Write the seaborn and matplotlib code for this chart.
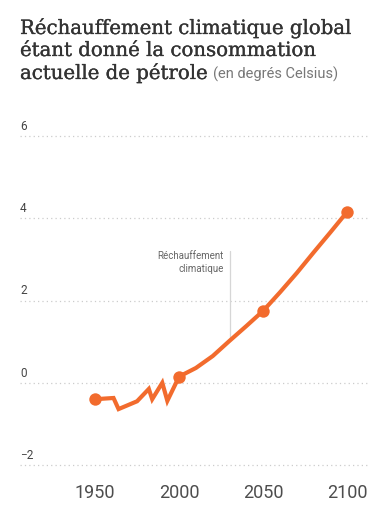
import matplotlib
matplotlib.use("Agg")
import matplotlib.pyplot as plt
import matplotlib.transforms as mtransforms
import matplotlib.patheffects as pe
import pandas as pd
import seaborn as sns

# data
years = [1950, 1961, 1964, 1975, 1982, 1984, 1990, 1993, 2000,
         2010, 2020, 2030, 2040, 2050, 2060, 2070, 2080, 2090, 2100]
temps = [-0.40, -0.37, -0.64, -0.45, -0.15, -0.40, 0.00, -0.44, 0.15,
         0.36, 0.65, 1.02, 1.38, 1.75, 2.20, 2.67, 3.17, 3.66, 4.16]
marker_years = [1950, 2000, 2050, 2100]
y_ticks = [-2, 0, 2, 4, 6]
x_ticks = [1950, 2000, 2050, 2100]
annot_year = 2030
annot_top = 3.2
annot_label = "Réchauffement\nclimatique"

orange = "#f26b2d"

df = pd.DataFrame({"year": years, "temp": temps})
pts = df[df["year"].isin(marker_years)]

sns.set_style("white")
plt.rcParams["font.family"] = ["Roboto", "DejaVu Sans"]

fig = plt.figure(figsize=(3.83, 5.13), dpi=100)
# y: 41.15 px per degree, 6 -> 136 px, -2 -> 465 px (from top)
ax = fig.add_axes([20 / 383, (513 - 471.2) / 513, 350 / 383, 341.4 / 513])

sns.lineplot(data=df, x="year", y="temp", ax=ax, color=orange, linewidth=3,
             solid_joinstyle="miter", zorder=3)
sns.scatterplot(data=pts, x="year", y="temp", ax=ax, color=orange, s=80,
                linewidth=0, zorder=4)

ax.set_xlim(1905.4, 2113.5)
ax.set_ylim(-2.15, 6.15)
ax.set_xticks(x_ticks)
ax.set_yticks(y_ticks)
ax.set_xlabel("")
ax.set_ylabel("")
for s in ax.spines.values():
    s.set_visible(False)
ax.grid(axis="y", color="#cccccc", linestyle=(0, (1, 2.5)), linewidth=0.9)
ax.grid(axis="x", visible=False)

ax.tick_params(axis="x", length=0, pad=9.5, labelsize=13, labelcolor="#4d4d4d")
ax.tick_params(axis="y", length=0, pad=0, labelsize=8.5, labelcolor="#444444")
shift = mtransforms.ScaledTranslation(0, 11 / 100, fig.dpi_scale_trans)
for lab in ax.get_yticklabels():
    lab.set_horizontalalignment("left")
    lab.set_transform(lab.get_transform() + shift)

# annotation
annot_base = df.loc[df["year"] == annot_year, "temp"].iloc[0]
ax.plot([annot_year, annot_year], [annot_base, annot_top], color="#d6d6d6",
        linewidth=0.9, zorder=2)
ax.annotate(annot_label, xy=(annot_year, annot_top), xytext=(-4, 0),
            textcoords="offset points", ha="right", va="top", fontsize=7,
            color="#666666", linespacing=1.35)

# title (slightly thickened to look like a medium slab serif)
heavy = [pe.withStroke(linewidth=0.2, foreground="#333333")]
fig.text(20 / 383, 1 - 17 / 513,
         "Réchauffement climatique global\nétant donné la consommation",
         fontsize=14.2, family="DejaVu Serif", color="#333333", va="top",
         linespacing=1.2, path_effects=heavy)
t3 = fig.text(20 / 383, 1 - 79 / 513, "actuelle de pétrole", fontsize=14.2,
              family="DejaVu Serif", color="#333333", va="baseline",
              path_effects=heavy)
fig.canvas.draw()
bb = t3.get_window_extent()
fig.text((bb.x1 + 5) / 383, 1 - 79 / 513, "(en degrés Celsius)", fontsize=10.5,
         color="#777777", va="baseline")

fig.savefig("out.png", dpi=100)
